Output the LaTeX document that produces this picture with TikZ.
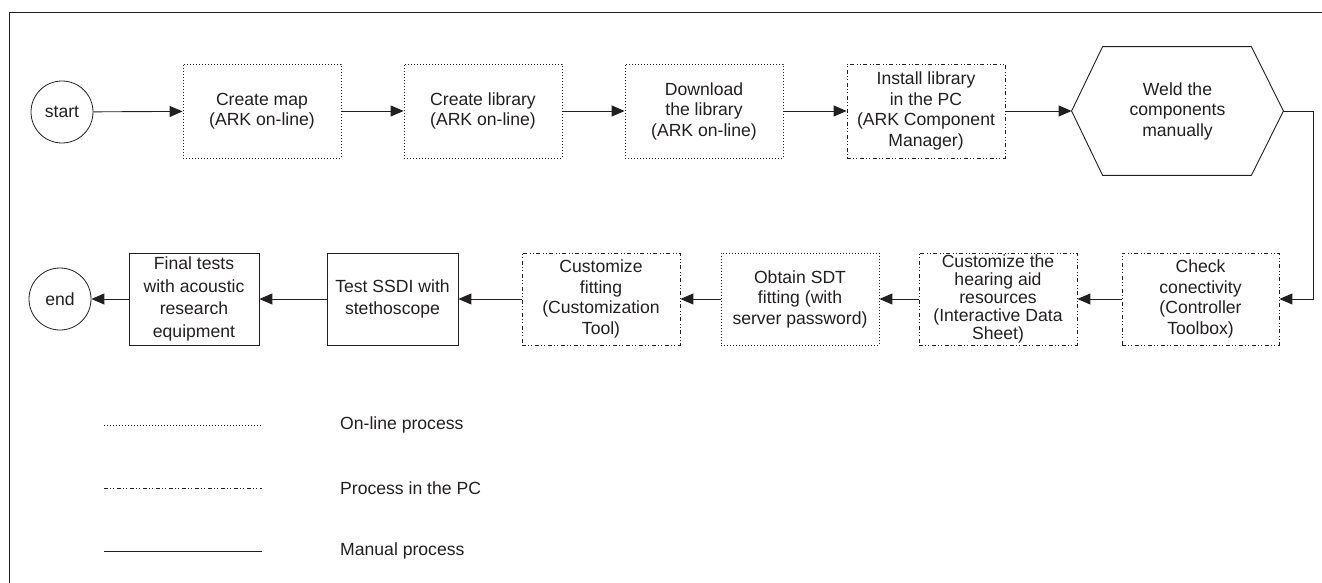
\documentclass[tikz,border=0pt]{standalone}
\usepackage{fontspec}
\setmainfont{Liberation Sans}
\usetikzlibrary{arrows.meta}
\definecolor{ink}{HTML}{231F20}
\begin{document}
\begin{tikzpicture}[x=1pt,y=-1pt,
  txt/.style={font=\fontsize{17.6}{20.5}\selectfont, text=ink},
  proc/.style={txt, rectangle, minimum height=92pt, align=center, inner sep=0pt, line width=0.8pt},
  online/.style={draw=ink, dash pattern=on 1pt off 2pt},
  pcproc/.style={draw=ink, dash pattern=on 4pt off 2pt on 1pt off 2pt on 1pt off 3pt},
  manual/.style={draw=ink},
  term/.style={txt, circle, draw=ink, line width=0.8pt, minimum size=62pt, inner sep=0pt},
  flow/.style={draw=ink, line width=0.9pt, -{Triangle[length=13pt,width=11pt]}},
  legline/.style={line width=0.9pt}
]
\useasboundingbox (0,0) rectangle (1322,583);
% frame
\draw[ink, line width=0.9pt] (9,583) -- (9,12) -- (1322,12);

% row 1
\node[term] (start) at (62,112) {start};
\node[proc, online, minimum width=158pt, minimum height=94pt] (map) at (262,111) {Create map\\(ARK on-line)};
\node[proc, online, minimum width=158pt, minimum height=94pt] (lib) at (483,111) {Create library\\(ARK on-line)};
\node[proc, online, minimum width=158pt, minimum height=94pt] (down) at (704,111) {Download\\the library\\(ARK on-line)};
\node[proc, pcproc, minimum width=158pt, minimum height=94pt] (inst) at (926,111) {Install library\\in the PC\\(ARK Component\\Manager)};
\node[proc, minimum width=211pt, minimum height=128pt] (weld) at (1177.5,111) {Weld the\\components\\manually};
\draw[ink, line width=0.9pt] (weld.west) -- ([xshift=31pt]weld.north west) -- ([xshift=-32pt]weld.north east)
  -- (weld.east) -- ([xshift=-32pt]weld.south east) -- ([xshift=31pt]weld.south west) -- cycle;

% row 2
\node[proc, pcproc, minimum width=157pt] (check) at (1200.5,299) {Check\\conectivity\\(Controller\\Toolbox)};
\node[proc, pcproc, minimum width=158pt, font=\fontsize{17.6}{18}\selectfont] (hear) at (998,299) {Customize the\\hearing aid\\resources\\(Interactive Data\\Sheet)};
\node[proc, online, minimum width=158pt] (sdt) at (800,299) {Obtain SDT\\fitting (with\\server password)};
\node[proc, pcproc, minimum width=158pt] (fit) at (601,299) {Customize\\fitting\\(Customization\\Tool)};
\node[proc, manual, minimum width=131pt, font=\fontsize{17.6}{22.5}\selectfont] (ssdi) at (392.5,299) {Test SSDI with\\stethoscope};
\node[proc, manual, minimum width=130pt, font=\fontsize{17.6}{22.5}\selectfont] (final) at (194,299) {Final tests\\with acoustic\\research\\equipment};
\node[term] (end) at (60,299) {end};

% connectors
\draw[flow] (start) -- (map);
\draw[flow] (map) -- (lib);
\draw[flow] (lib) -- (down);
\draw[flow] (down) -- (inst);
\draw[flow] (inst) -- (weld.west);
\draw[flow] (weld.east) -- ++(30,0) |- (check.east);
\draw[flow] (check) -- (hear);
\draw[flow] (hear) -- (sdt);
\draw[flow] (sdt) -- (fit);
\draw[flow] (fit) -- (ssdi);
\draw[flow] (ssdi) -- (final);
\draw[flow] (final) -- (end);

% legend
\coordinate (l1a) at (104,425); \coordinate (l1b) at (262,425);
\coordinate (l2a) at (104,488); \coordinate (l2b) at (262,488);
\coordinate (l3a) at (104,551); \coordinate (l3b) at (262,551);
\draw[online, legline] (l1a) -- (l1b);
\draw[pcproc, legline] (l2a) -- (l2b);
\draw[manual, legline] (l3a) -- (l3b);
\node[txt, anchor=west, inner sep=0pt] (t1) at (340,425) {On-line process};
\node[txt, anchor=west, inner sep=0pt] (t2) at (340,488) {Process in the PC};
\node[txt, anchor=west, inner sep=0pt] (t3) at (340,551) {Manual process};
\end{tikzpicture}
\end{document}
